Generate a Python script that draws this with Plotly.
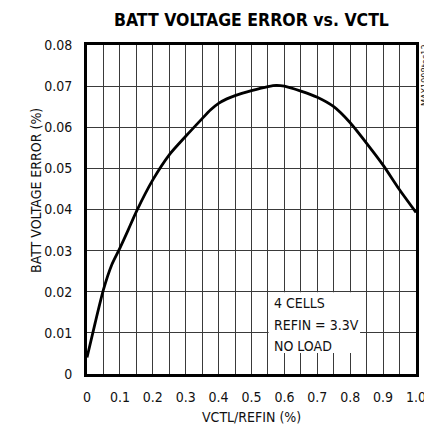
import plotly.graph_objects as go

# Data
vctl = [0, 0.025, 0.05, 0.075, 0.1, 0.125, 0.15, 0.2, 0.25, 0.3, 0.35, 0.375, 0.4, 0.425,
        0.45, 0.5, 0.55, 0.575, 0.6, 0.65, 0.7, 0.75, 0.8, 0.85, 0.9, 0.95, 1.0]
batt_error = [0.004, 0.0125, 0.0205, 0.0265, 0.0306, 0.0350, 0.0395, 0.0472, 0.0533,
              0.0578, 0.0621, 0.0642, 0.0658, 0.0669, 0.0677, 0.0689, 0.0699, 0.0702,
              0.0700, 0.0688, 0.0673, 0.0650, 0.0611, 0.0561, 0.0508, 0.0448, 0.0393]

x_tickvals = [0, 0.1, 0.2, 0.3, 0.4, 0.5, 0.6, 0.7, 0.8, 0.9, 1.0]
x_ticktext = ["0", "0.1", "0.2", "0.3", "0.4", "0.5", "0.6", "0.7", "0.8", "0.9", "1.0"]
y_tickvals = [0, 0.01, 0.02, 0.03, 0.04, 0.05, 0.06, 0.07, 0.08]
y_ticktext = ["0", "0.01", "0.02", "0.03", "0.04", "0.05", "0.06", "0.07", "0.08"]

note_lines = ["4 CELLS", "REFIN = 3.3V", "NO LOAD"]

FONT = "DejaVu Sans Condensed, Liberation Sans, sans-serif"
GRID = "#3a3a3a"
OFF = 8  # page body margin offset
W, H = 432 - OFF, 436 - OFF
# plot area in screenshot pixels: left 87, right 416, top 45, bottom 374
L, T = 87 - OFF, 45 - OFF
R = W - (416 - OFF)
B = H - (374 - OFF)
PW = W - L - R
PH = H - T - B


def px(xs):
    return (xs - OFF - L) / PW


def py(ys):
    return 1 - (ys - OFF - T) / PH


fig = go.Figure()
fig.add_trace(go.Scatter(
    x=vctl, y=batt_error, mode="lines",
    line=dict(color="black", width=2.8, shape="spline", smoothing=0.6),
    hoverinfo="skip", showlegend=False,
))

fig.update_layout(
    width=W, height=H,
    margin=dict(l=L, r=R, t=T, b=B, autoexpand=False),
    paper_bgcolor="white", plot_bgcolor="white",
    font=dict(family=FONT, size=14, color="#111"),
    showlegend=False,
)

fig.update_xaxes(
    range=[0, 1.0], tickvals=x_tickvals, ticktext=x_ticktext,
    showgrid=True, gridcolor=GRID, gridwidth=1,
    minor=dict(tickvals=[i * 0.05 for i in range(21)], showgrid=True, gridcolor=GRID, gridwidth=1),
    showline=True, linecolor="black", linewidth=3, mirror=True,
    ticks="", ticklabelstandoff=8, zeroline=False, automargin=False,
    tickfont=dict(family=FONT, size=14, color="#111"),
)
fig.update_yaxes(
    range=[0, 0.08], tickvals=y_tickvals, ticktext=y_ticktext,
    showgrid=True, gridcolor=GRID, gridwidth=1,
    showline=True, linecolor="black", linewidth=3, mirror=True,
    ticks="", ticklabelstandoff=9, zeroline=False, automargin=False,
    tickfont=dict(family=FONT, size=14, color="#111"),
)

# White box behind the note text (covers gridlines)
fig.add_shape(type="rect", xref="x", yref="y", x0=0.552, x1=0.83, y0=0.0051, y1=0.0199,
              fillcolor="white", line=dict(width=0), layer="between")

for i, t in enumerate(note_lines):
    fig.add_annotation(x=px(272), y=py(303 + i * 21.5), xref="paper", yref="paper",
                       text=t, showarrow=False, xanchor="left", yanchor="middle",
                       font=dict(family=FONT, size=14, color="#111"))

# Title
fig.add_annotation(x=px(251), y=py(20), xref="paper", yref="paper",
                   text="<b>BATT VOLTAGE ERROR vs. VCTL</b>", showarrow=False,
                   xanchor="center", yanchor="middle",
                   font=dict(family=FONT, size=17.5, color="black"))
# Axis titles
fig.add_annotation(x=px(251.5), y=py(417), xref="paper", yref="paper",
                   text="VCTL/REFIN (%)", showarrow=False, xanchor="center", yanchor="middle",
                   font=dict(family=FONT, size=14, color="#111"))
fig.add_annotation(x=px(36), y=py(191), xref="paper", yref="paper",
                   text="BATT VOLTAGE ERROR (%)", showarrow=False, textangle=-90,
                   xanchor="center", yanchor="middle",
                   font=dict(family=FONT, size=14, color="#111"))
# Side ID
fig.add_annotation(x=px(425), y=py(75), xref="paper", yref="paper",
                   text="MAX1908toc12", showarrow=False, textangle=-90,
                   xanchor="center", yanchor="middle",
                   font=dict(family=FONT, size=9, color="#111"))

fig.write_html("out.html")
